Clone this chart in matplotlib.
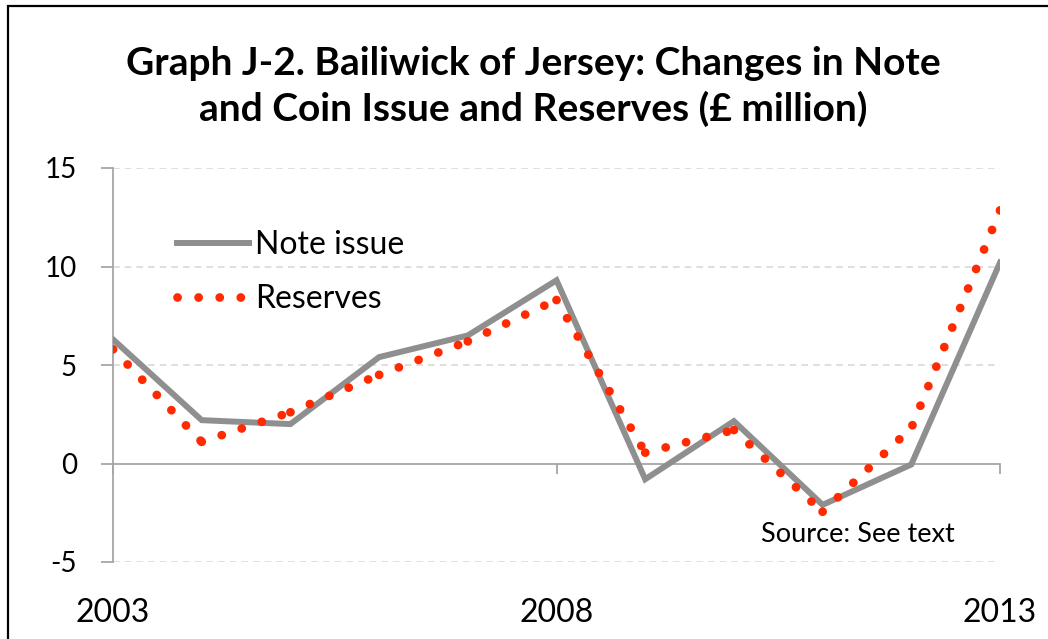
#!/usr/bin/env python3
import matplotlib.pyplot as plt
from matplotlib.patches import Rectangle

plt.rcParams["font.family"] = ["Lato", "DejaVu Sans"]
plt.rcParams["axes.unicode_minus"] = False

years = [2003, 2004, 2005, 2006, 2007, 2008, 2009, 2010, 2011, 2012, 2013]
note_issue = [6.3, 2.2, 2.0, 5.4, 6.5, 9.3, -0.8, 2.15, -2.1, -0.05, 10.2]
reserves = [5.8, 1.1, 2.6, 4.5, 6.2, 8.3, 0.55, 1.7, -2.45, 1.8, 12.85]
y_ticks = [-5, 0, 5, 10, 15]
x_ticks = [2003, 2008, 2013]

title = "Graph J-2. Bailiwick of Jersey: Changes in Note\nand Coin Issue and Reserves (£ million)"

axis_grey = "#a6a6a6"
dot_style = dict(color="#ff2a00", lw=6.3, linestyle=(0, (0.01, 2.4)),
                 dash_capstyle="round", zorder=4)

fig = plt.figure(figsize=(10.48, 6.39), dpi=100)
ax = fig.add_axes([113 / 1048, 1 - 562 / 639, 887 / 1048, 394 / 639])

ax.plot(years, note_issue, color="#8f8f8f", lw=4.3, label="Note issue",
        solid_joinstyle="miter", zorder=3)

# dotted line drawn one segment at a time (dots restart at each point, like Excel);
# last segment reversed so the final point gets a dot
n = len(years)
for i in range(n - 1):
    xs, ys = years[i:i + 2], reserves[i:i + 2]
    if i == n - 2:
        xs, ys = xs[::-1], ys[::-1]
    ax.plot(xs, ys, label="Reserves" if i == 0 else None, **dot_style)

ax.set_xlim(2003, 2013)
ax.set_ylim(-5, 15)
ax.set_yticks(y_ticks)
ax.set_xticks(x_ticks)

for y in y_ticks:
    if y != 0:
        ax.axhline(y, color="#d9d9d9", lw=1.2, ls=(0, (4, 3)), zorder=1)

for s in ["top", "right"]:
    ax.spines[s].set_visible(False)
ax.spines["bottom"].set_position(("data", 0))
ax.spines["bottom"].set_color(axis_grey)
ax.spines["left"].set_color(axis_grey)
ax.spines["bottom"].set_linewidth(1.3)
ax.spines["left"].set_linewidth(1.3)

ax.tick_params(axis="y", direction="out", length=9, width=1.3, color=axis_grey,
               pad=17, labelsize=20)
ax.tick_params(axis="x", direction="out", length=7, width=1.3, color=axis_grey,
               pad=90, labelsize=23)

ax.legend(loc="upper left", bbox_to_anchor=(0.058, 0.875), frameon=False,
          fontsize=23, handlelength=2.25, handletextpad=0.2, labelspacing=0.75,
          borderaxespad=0)

ax.text(0.73, 0.07, "Source: See text", transform=ax.transAxes, fontsize=19.5,
        va="center", ha="left")

fig.text(0.509, 0.864, title, ha="center", va="center", fontsize=28,
         fontweight="bold", linespacing=1.32)

fig.add_artist(Rectangle((8 / 1048, -0.1), 1.2, 1.1 - 6 / 639,
                         transform=fig.transFigure, fill=False,
                         edgecolor="black", lw=1.6))

fig.savefig("out.png", dpi=100)
